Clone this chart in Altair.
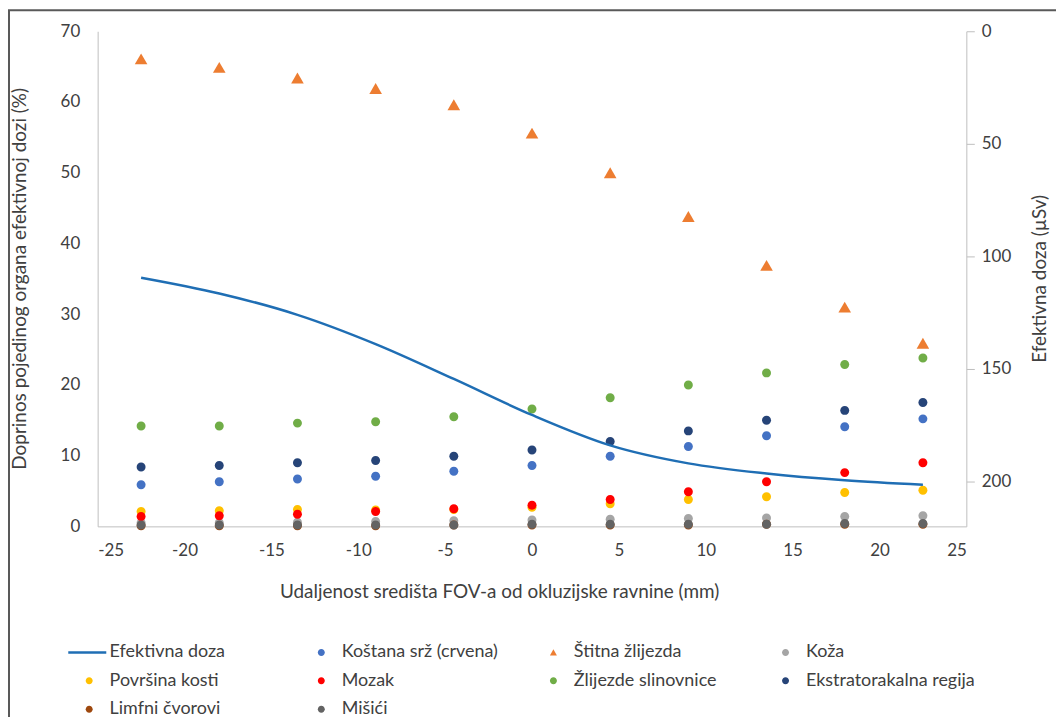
import altair as alt
import pandas as pd

# ---------------- data ----------------
x_mm = [-22.5, -18, -13.5, -9, -4.5, 0, 4.5, 9, 13.5, 18, 22.5]

efektivna_doza = [109.5, 116.5, 126, 139, 154.5, 170.5, 184, 192, 196.5, 199.5, 201.5]

kostana_srz = [5.9, 6.3, 6.7, 7.1, 7.8, 8.6, 9.9, 11.3, 12.8, 14.1, 15.2]
stitna = [66.1, 64.9, 63.4, 61.9, 59.6, 55.6, 50.0, 43.8, 36.9, 31.0, 25.9]
koza = [0.5, 0.5, 0.6, 0.7, 0.8, 0.9, 1.0, 1.1, 1.2, 1.4, 1.5]
povrsina_kosti = [2.1, 2.2, 2.4, 2.3, 2.4, 2.7, 3.2, 3.8, 4.2, 4.8, 5.1]
mozak = [1.4, 1.5, 1.7, 2.1, 2.5, 3.0, 3.8, 4.9, 6.3, 7.6, 9.0]
slinovnice = [14.2, 14.2, 14.6, 14.8, 15.5, 16.6, 18.2, 20.0, 21.7, 22.9, 23.8]
ekstratorakalna = [8.4, 8.6, 9.0, 9.3, 9.9, 10.8, 12.0, 13.5, 15.0, 16.4, 17.5]
limfni = [0.1, 0.1, 0.1, 0.1, 0.2, 0.2, 0.2, 0.2, 0.3, 0.3, 0.3]
misici = [0.2, 0.2, 0.2, 0.2, 0.2, 0.3, 0.3, 0.3, 0.3, 0.4, 0.4]

series_names = [
    "Efektivna doza", "Koštana srž (crvena)", "Štitna žlijezda", "Koža",
    "Površina kosti", "Mozak", "Žlijezde slinovnice", "Ekstratorakalna regija",
    "Limfni čvorovi", "Mišići",
]
series_colors = [
    "#1F6EB4", "#4472C4", "#ED7D31", "#A5A5A5", "#FFC000", "#FF0000",
    "#70AD47", "#264478", "#9E480E", "#636363",
]

# symbol outlines in unit coordinates; the bare move-to points give every
# legend entry the same footprint so that the legend columns are even
PAD_L = "M-6,0"
PAD_R = "M60.3,0"
LINE_SYM = PAD_L + "M-6,-0.36H4.9V0.36H-6Z" + PAD_R
CIRCLE_SYM = PAD_L + "M1,0A1,1,0,1,1,-1,0A1,1,0,1,1,1,0Z" + PAD_R
TRI_SYM = PAD_L + "M0,-0.866L1,0.866L-1,0.866Z" + PAD_R
series_shapes = [
    LINE_SYM, CIRCLE_SYM, TRI_SYM, CIRCLE_SYM, CIRCLE_SYM,
    CIRCLE_SYM, CIRCLE_SYM, CIRCLE_SYM, CIRCLE_SYM, CIRCLE_SYM,
]

organ_values = {
    "Koštana srž (crvena)": kostana_srz,
    "Štitna žlijezda": stitna,
    "Koža": koza,
    "Površina kosti": povrsina_kosti,
    "Mozak": mozak,
    "Žlijezde slinovnice": slinovnice,
    "Ekstratorakalna regija": ekstratorakalna,
    "Limfni čvorovi": limfni,
    "Mišići": misici,
}

rows = []
for name in series_names[1:]:
    for xv, vv in zip(x_mm, organ_values[name]):
        rows.append({"x": xv, "v": vv, "serija": name})
pts = pd.DataFrame(rows)
line_df = pd.DataFrame({"x": x_mm, "d": efektivna_doza})

# ---------------- chart ----------------
W, H = 872, 497
FONT = "Lato"
TXT = "#404040"
AX = "#BFBFBF"
HYPHEN = "replace(datum.label, '\u2212', '-')"

x_enc = alt.X(
    "x:Q",
    scale=alt.Scale(domain=[-25, 25], nice=False, zero=False),
    axis=alt.Axis(
        values=list(range(-25, 30, 5)), ticks=False, tickSize=0, grid=False,
        domainColor=AX, labelFontSize=17, labelColor=TXT, labelPadding=16,
        labelExpr=HYPHEN,
        title="Udaljenost središta FOV-a od okluzijske ravnine (mm)",
        titleX=403, titleY=65, titleBaseline="middle", titleFontSize=19,
        titleFontWeight="normal", titleColor=TXT,
    ),
)

y_left = alt.Y(
    "v:Q",
    scale=alt.Scale(domain=[0, 70], nice=False),
    axis=alt.Axis(
        orient="left", values=list(range(0, 80, 10)), ticks=False, tickSize=0,
        grid=False, domainColor=AX, labelFontSize=17, labelColor=TXT,
        labelPadding=18,
        title="Doprinos pojedinog organa efektivnoj dozi (%)",
        titleX=-78, titleY=248, titleAngle=270, titleBaseline="middle",
        titleFontSize=19, titleFontWeight="normal", titleColor=TXT,
    ),
)

legend = alt.Legend(
    title=None, orient="none", legendX=-17.5, legendY=614.5, columns=4,
    direction="horizontal", gridAlign="all", columnPadding=0,
    rowPadding=10.5, symbolSize=49, labelOffset=11.5, labelFontSize=18,
    labelLimit=300, labelColor=TXT, symbolOpacity=1, symbolStrokeWidth=0,
    padding=0,
)

color_enc = alt.Color(
    "serija:N", scale=alt.Scale(domain=series_names, range=series_colors),
    legend=legend,
)
shape_enc = alt.Shape(
    "serija:N", scale=alt.Scale(domain=series_names, range=series_shapes),
    legend=legend,
)

dots = alt.Chart(pts).transform_filter(
    alt.datum.serija != "Štitna žlijezda"
).mark_point(filled=True, size=81, opacity=1).encode(
    x=x_enc, y=y_left, color=color_enc, shape=shape_enc
)

tri = alt.Chart(pts).transform_filter(
    alt.datum.serija == "Štitna žlijezda"
).mark_point(filled=True, size=160, opacity=1).encode(
    x=x_enc, y=y_left, color=color_enc, shape=shape_enc
)

points = alt.layer(dots, tri)

line = alt.Chart(line_df).mark_line(
    color="#1F6EB4", strokeWidth=2.5, interpolate="monotone"
).encode(
    x=x_enc,
    y=alt.Y(
        "d:Q",
        scale=alt.Scale(domain=[0, 220], reverse=True, nice=False),
        axis=alt.Axis(
            orient="right", values=[0, 50, 100, 150, 200], ticks=True,
            tickSize=8, tickColor=AX, grid=False, domainColor=AX,
            labelFontSize=17, labelColor=TXT, labelPadding=7,
            title="Efektivna doza (µSv)", titleX=73, titleY=248,
            titleAngle=270, titleBaseline="middle", titleFontSize=19,
            titleFontWeight="normal", titleColor=TXT,
        ),
    ),
)

frame = alt.Chart(alt.Data(values=[{}])).mark_rect(
    fill=None, stroke="#595959", strokeWidth=2
).encode(
    x=alt.value(-89), x2=alt.value(W + 300),
    y=alt.value(-21), y2=alt.value(H + 400),
)

chart = alt.layer(frame, points, line).resolve_scale(
    y="independent"
).properties(
    width=W, height=H,
    autosize=alt.AutoSizeParams(type="none"),
    padding={"left": 90, "top": 22, "right": 90, "bottom": 190},
).configure(font=FONT).configure_view(stroke=None)

chart.save("out.html", embed_options={"renderer": "svg", "actions": False})
